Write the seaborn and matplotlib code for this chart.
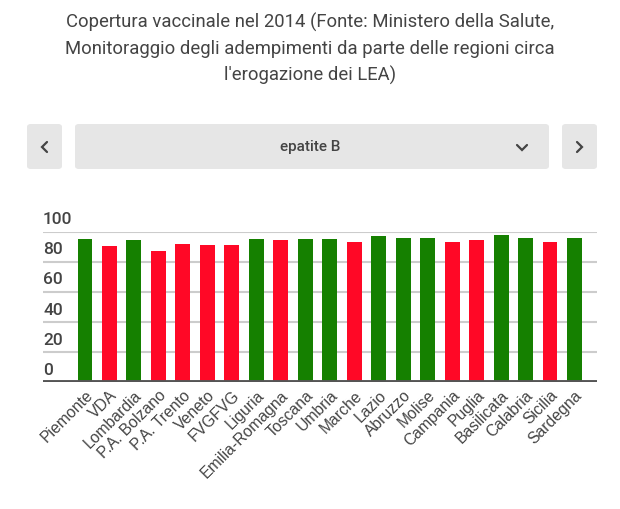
import matplotlib
matplotlib.use("Agg")
import matplotlib.pyplot as plt
from matplotlib.patches import FancyBboxPatch
from matplotlib.lines import Line2D
from matplotlib.transforms import blended_transform_factory
import seaborn as sns
import pandas as pd

# Data
regions = ['Piemonte', 'VDA', 'Lombardia', 'P.A. Bolzano', 'P.A. Trento', 'Veneto',
           'FVGFVG', 'Liguria', 'Emilia-Romagna', 'Toscana', 'Umbria', 'Marche',
           'Lazio', 'Abruzzo', 'Molise', 'Campania', 'Puglia', 'Basilicata',
           'Calabria', 'Sicilia', 'Sardegna']
coverage = [95.0, 90.6, 94.3, 87.2, 92.1, 91.2, 91.2, 95.0, 94.3, 95.0, 95.0, 93.4,
            97.4, 95.9, 95.9, 93.4, 94.3, 98.1, 95.9, 93.4, 95.9]
status = ['ok', 'ko', 'ok', 'ko', 'ko', 'ko', 'ko', 'ok', 'ko', 'ok', 'ok', 'ko',
          'ok', 'ok', 'ok', 'ko', 'ko', 'ok', 'ok', 'ko', 'ok']
y_ticks = [0, 20, 40, 60, 80, 100]
title_lines = ['Copertura vaccinale nel 2014 (Fonte: Ministero della Salute,',
               'Monitoraggio degli adempimenti da parte delle regioni circa',
               "l'erogazione dei LEA)"]
selector_label = 'epatite B'

GREEN = '#158000'
RED = '#ff0826'
TEXT = '#444444'

sns.set_theme(style='white')
plt.rcParams['font.family'] = ['Roboto', 'DejaVu Sans']

df = pd.DataFrame({'region': regions, 'value': coverage, 'status': status})

W, H = 620, 509
fig = plt.figure(figsize=(W / 100, H / 100), dpi=100)

# title
for i, line in enumerate(title_lines):
    fig.text(0.5, 1 - (22 + i * 26.5) / H, line, ha='center', va='center',
             fontsize=13.3, color=TEXT)

# selector buttons
def button(x0, x1, y0, y1):
    p = FancyBboxPatch((x0 / W, 1 - y1 / H), (x1 - x0) / W, (y1 - y0) / H,
                       boxstyle='round,pad=0,rounding_size=0.006',
                       transform=fig.transFigure, facecolor='#e6e6e6',
                       edgecolor='none')
    fig.patches.append(p)

def chevron(px, py):
    xs = [p[0] / W for p in px]
    ys = [1 - p / H for p in py]
    fig.lines.append(Line2D(xs, ys, transform=fig.transFigure, color=TEXT,
                            lw=1.6, solid_capstyle='round',
                            solid_joinstyle='miter'))

button(27, 62, 124, 169)
button(75, 549, 124, 169)
button(562, 597, 124, 169)
chevron([(47,), (42,), (47,)], [142, 147, 152])
chevron([(577,), (582,), (577,)], [142, 147, 152])
chevron([(517,), (522,), (527,)], [145, 150, 145])
fig.text(310 / W, 1 - 147 / H, selector_label, ha='center', va='center',
         fontsize=11, color=TEXT, weight='medium')

# chart
ax = fig.add_axes([43 / W, 1 - 382.3 / H, 554 / W, 150.6 / H])
sns.barplot(data=df, x='region', y='value', hue='status',
            palette={'ok': GREEN, 'ko': RED}, dodge=False, width=0.61,
            saturation=1, legend=False, ax=ax, zorder=3, linewidth=0)

ax.set_xlim(-1.716, 20.92)
ax.set_ylim(0, 100)
ax.set_yticks(y_ticks)
ax.set_yticklabels([])
ax.tick_params(axis='y', length=0)
ax.tick_params(axis='x', length=0, pad=4)
for v in y_ticks:
    ax.axhline(v, color='#cccccc', lw=1.5, zorder=1)
ax.axhline(0, color='#555555', lw=2.8, zorder=4)
trans = blended_transform_factory(ax.transAxes, ax.transData)
for v in y_ticks:
    ax.text(0.0, v + 3.0, str(v), transform=trans, ha='left', va='bottom',
            fontsize=12.5, color=TEXT, weight='medium')

ax.set_xticks(range(len(regions)))
ax.set_xticklabels(regions, rotation=45, ha='right', rotation_mode='anchor',
                   fontsize=11.3, color=TEXT, family=['Liberation Sans'])
ax.set_xlabel('')
ax.set_ylabel('')
sns.despine(ax=ax, left=True, bottom=True, top=True, right=True)

fig.savefig('out.png', dpi=100)
